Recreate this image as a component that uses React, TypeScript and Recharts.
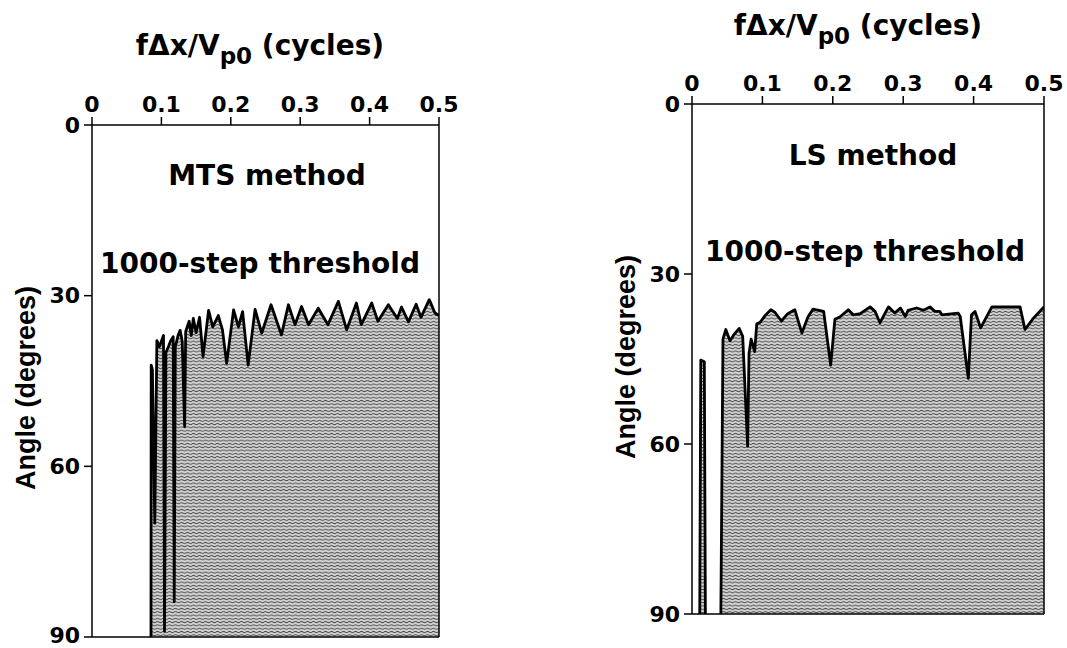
import React from 'react'
import { AreaChart, Area, XAxis, YAxis, ReferenceLine } from 'recharts'

// MTS method, 1000-step threshold
const mtsFreq = [
  0.085, 0.0853, 0.087, 0.0905, 0.0935, 0.097, 0.1, 0.103, 0.1045, 0.1065, 0.11, 0.113, 0.117,
  0.1185, 0.12, 0.124, 0.127, 0.13, 0.1335, 0.135, 0.14, 0.143, 0.146, 0.15, 0.155, 0.16, 0.168,
  0.174, 0.182, 0.188, 0.194, 0.204, 0.211, 0.217, 0.225, 0.235, 0.2445, 0.258, 0.273, 0.283,
  0.2925, 0.302, 0.312, 0.326, 0.34, 0.355, 0.367, 0.381, 0.388, 0.403, 0.412, 0.427, 0.44,
  0.446, 0.456, 0.467, 0.474, 0.486, 0.494, 0.5,
]
const mtsAngle = [
  90, 42.2, 43, 70, 37.9, 39, 38, 37, 89, 40, 39, 38, 37.2,
  83.8, 39, 37, 36.1, 38, 53, 36.3, 34.5, 37, 34, 36.5, 33.8, 40.7, 32.6,
  35.5, 33.5, 36, 41.9, 32.5, 35.5, 32.8, 42.2, 32.4, 36.6, 31.6, 36.9, 31.6,
  35.1, 31.9, 35.1, 32.2, 35.1, 31, 36, 31.3, 35.1, 31.3, 34.5, 31.6, 34,
  32, 34.6, 31.5, 33.8, 30.7, 33, 33.5,
]

// LS method, 1000-step threshold; null = gap in the trace
const lsFreq = [
  0.011, 0.0125, 0.0175, 0.019, 0.03, 0.041, 0.044, 0.048, 0.054, 0.059, 0.067, 0.072, 0.079, 0.081,
  0.084, 0.089, 0.092, 0.097, 0.104, 0.112, 0.118, 0.127, 0.136, 0.146, 0.156, 0.165, 0.172,
  0.187, 0.197, 0.203, 0.21, 0.222, 0.229, 0.239, 0.253, 0.26, 0.267, 0.279, 0.288, 0.296,
  0.303, 0.307, 0.319, 0.329, 0.338, 0.345, 0.352, 0.355, 0.378, 0.381, 0.3925, 0.397, 0.402,
  0.41, 0.426, 0.438, 0.466, 0.473, 0.485, 0.5,
]
const lsAngle: (number | null)[] = [
  90, 45.2, 45.5, 90, null, 90, 41.5, 39.8, 41.8, 40.8, 39.6, 41, 60.4, 44,
  41.5, 43.7, 38.8, 38.5, 37.3, 36.3, 36.8, 38.3, 37, 36.3, 40.4, 37.5, 36.2,
  36.6, 46.1, 38, 37.6, 36.3, 37.2, 37, 35.8, 36.6, 38.6, 35.8, 36.9, 36,
  37.5, 36.4, 36, 36.4, 35.8, 36.6, 36.6, 37.2, 36.9, 37.5, 48.4, 37.2, 36.6,
  39.5, 35.8, 35.8, 35.8, 39.8, 37.8, 35.8,
]

const freqTicks = [0, 0.1, 0.2, 0.3, 0.4, 0.5]
const angleTicks = [0, 30, 60, 90]

const FONT = '"DejaVu Sans", sans-serif'
const tickStyle = { fill: '#000', fontSize: 22, fontWeight: 700, fontFamily: FONT }

type PanelProps = {
  id: string
  data: { x: number; angle: number | null }[]
  left: number
  width: number
  margin: { top: number; right: number; bottom: number; left: number }
}

function Panel({ id, data, left, width, margin }: PanelProps) {
  return (
    <div style={{ position: 'absolute', left, top: 0 }}>
      <AreaChart width={width} height={648} data={data} margin={margin}>
        <defs>
          <pattern id={id} patternUnits="userSpaceOnUse" width={6} height={3.3}>
            <rect width={6} height={3.3} fill="#d4d4d4" />
            <path d="M0 1.6 Q1.5 0.5 3 1.6 T6 1.6" stroke="#4a4a4a" strokeWidth={1} fill="none" />
          </pattern>
        </defs>
        <XAxis
          dataKey="x"
          type="number"
          orientation="top"
          domain={[0, 0.5]}
          ticks={freqTicks}
          tickFormatter={(v: number) => String(v)}
          height={40}
          tickSize={8}
          tickMargin={5}
          tick={tickStyle}
          axisLine={{ stroke: '#000', strokeWidth: 1.5 }}
          tickLine={{ stroke: '#000', strokeWidth: 1.5 }}
          allowDataOverflow
        />
        <YAxis
          type="number"
          domain={[0, 90]}
          reversed
          ticks={angleTicks}
          width={60}
          tickSize={8}
          tickMargin={4}
          tick={tickStyle}
          axisLine={{ stroke: '#000', strokeWidth: 1.5 }}
          tickLine={{ stroke: '#000', strokeWidth: 1.5 }}
        />
        <Area
          type="linear"
          dataKey="angle"
          baseValue={90}
          stroke="#000"
          strokeWidth={2.8}
          strokeLinejoin="round"
          fill={`url(#${id})`}
          fillOpacity={1}
          dot={false}
          activeDot={false}
          isAnimationActive={false}
        />
        <ReferenceLine x={0.5} stroke="#000" strokeWidth={1.5} />
        <ReferenceLine y={90} stroke="#000" strokeWidth={1.5} />
      </AreaChart>
    </div>
  )
}

function Title({ x, y }: { x: number; y: number }) {
  return (
    <text x={x} y={y} textAnchor="middle" fontSize={28} fontWeight={700} fontFamily={FONT}>
      fΔx/V
      <tspan fontSize={23} dy={9}>p0</tspan>
      <tspan dy={-9}> (cycles)</tspan>
    </text>
  )
}

export default function App() {
  const mtsData = mtsFreq.map((x, i) => ({ x, angle: mtsAngle[i] }))
  const lsData = lsFreq.map((x, i) => ({ x, angle: lsAngle[i] }))
  const txt = { fontSize: 28, fontWeight: 700, fontFamily: FONT } as const

  return (
    <div style={{ position: 'absolute', left: 0, top: 0, width: 1067, height: 648, background: '#fff' }}>
      <Panel id="mtsFill" data={mtsData} left={0} width={520} margin={{ top: 85, right: 81, bottom: 11, left: 32 }} />
      <Panel id="lsFill" data={lsData} left={560} width={507} margin={{ top: 64, right: 23, bottom: 34, left: 72 }} />
      <svg width={1067} height={648} style={{ position: 'absolute', left: 0, top: 0, pointerEvents: 'none' }}>
        <Title x={260} y={55} />
        <Title x={858} y={35} />
        <text x={267} y={185} textAnchor="middle" {...txt}>MTS method</text>
        <text x={873} y={165} textAnchor="middle" {...txt}>LS method</text>
        <text x={100} y={273} {...txt}>1000-step threshold</text>
        <text x={705} y={261} {...txt}>1000-step threshold</text>
        <text
          transform="translate(35,388) rotate(-90)"
          textAnchor="middle"
          fontSize={27}
          fontWeight={700}
          fontFamily='"Liberation Sans", Arial, sans-serif'
        >
          Angle (degrees)
        </text>
        <text
          transform="translate(635,357) rotate(-90)"
          textAnchor="middle"
          fontSize={27}
          fontWeight={700}
          fontFamily='"Liberation Sans", Arial, sans-serif'
        >
          Angle (degrees)
        </text>
      </svg>
    </div>
  )
}
